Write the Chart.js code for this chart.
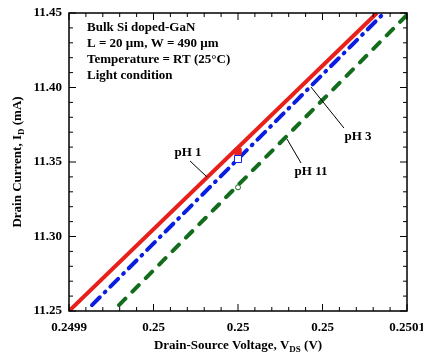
<!DOCTYPE html>
<html lang="en">
<head>
    <meta charset="UTF-8">
    <title>Drain current vs VDS</title>
    <script src="https://cdn.jsdelivr.net/npm/chart.js@4.4.0/dist/chart.umd.min.js"></script>
    <style>
        body { margin: 0; background: #fff; }
    </style>
</head>
<body>
    <canvas id="chart" width="423" height="356"></canvas>

    <script>
        // tick values and labels
        const xTicks = [0.2499, 0.24995, 0.25, 0.25005, 0.2501]
        const xTickLabels = ['0.2499', '0.25', '0.25', '0.25', '0.2501']
        const yTicks = [11.25, 11.30, 11.35, 11.40, 11.45]
        const yTickLabels = ['11.25', '11.30', '11.35', '11.40', '11.45']

        // series (VDS in V, ID in mA)
        const ph1V = [0.2499, 0.2500822]
        const ph1I = [11.25, 11.45]
        const ph3V = [0.2499136, 0.2500864]
        const ph3I = [11.254, 11.45]
        const ph11V = [0.2499296, 0.2501]
        const ph11I = [11.254, 11.4487]

        // marked points
        const markV = [0.25, 0.25, 0.25]
        const markI = [11.357, 11.352, 11.333]

        const infoLines = ['Bulk Si doped-GaN', 'L = 20 \u00b5m, W = 490 \u00b5m', 'Temperature = RT (25\u00b0C)', 'Light condition']

        const font = "'Liberation Serif', 'Times New Roman', serif"

        function pts(xs, ys) {
            return xs.map((x, i) => ({ x: x, y: ys[i] }))
        }

        // label text, label pos, pointer start, pointer tip (data coords)
        const callouts = [
            { text: 'pH 1', at: [0.2499704, 11.356], from: [0.2499716, 11.3507], to: [0.2499817, 11.3399] },
            { text: 'pH 3', at: [0.250071, 11.3668], from: [0.2500627, 11.3728], to: [0.2500432, 11.4003] },
            { text: 'pH 11', at: [0.2500432, 11.3433], from: [0.2500373, 11.3493], to: [0.250029, 11.3654] }
        ]

        const decor = {
            id: 'decor',
            afterDraw(chart) {
                const ctx = chart.ctx
                const a = chart.chartArea
                const xs = chart.scales.x
                const ys = chart.scales.y
                ctx.save()

                // frame
                ctx.strokeStyle = '#000'
                ctx.lineWidth = 1.5
                ctx.strokeRect(a.left, a.top, a.right - a.left, a.bottom - a.top)

                // inward ticks, 4 minor per interval
                ctx.lineWidth = 1
                ctx.beginPath()
                for (let i = 0; i <= 20; i++) {
                    const px = xs.getPixelForValue(0.2499 + i * 0.00001)
                    const len = i % 5 === 0 ? 7 : 4
                    ctx.moveTo(px, a.bottom); ctx.lineTo(px, a.bottom - len)
                    ctx.moveTo(px, a.top); ctx.lineTo(px, a.top + len)
                }
                for (let i = 0; i <= 20; i++) {
                    const py = ys.getPixelForValue(11.25 + i * 0.01)
                    const len = i % 5 === 0 ? 7 : 4
                    ctx.moveTo(a.left, py); ctx.lineTo(a.left + len, py)
                    ctx.moveTo(a.right, py); ctx.lineTo(a.right - len, py)
                }
                ctx.stroke()

                // info text
                ctx.fillStyle = '#000'
                ctx.font = 'bold 13px ' + font
                ctx.textBaseline = 'middle'
                ctx.textAlign = 'left'
                infoLines.forEach((t, i) => ctx.fillText(t, a.left + 18, a.top + 15 + i * 16))

                // callouts
                callouts.forEach(c => {
                    ctx.textAlign = 'center'
                    ctx.fillText(c.text, xs.getPixelForValue(c.at[0]), ys.getPixelForValue(c.at[1]))
                    ctx.beginPath()
                    ctx.moveTo(xs.getPixelForValue(c.from[0]), ys.getPixelForValue(c.from[1]))
                    ctx.lineTo(xs.getPixelForValue(c.to[0]), ys.getPixelForValue(c.to[1]))
                    ctx.stroke()
                })

                // axis titles with subscripts
                function subText(parts, x, y) {
                    let w = 0
                    parts.forEach(p => {
                        ctx.font = (p.sub ? 'bold 9px ' : 'bold 13px ') + font
                        w += ctx.measureText(p.t).width
                    })
                    let cx = x - w / 2
                    ctx.textAlign = 'left'
                    parts.forEach(p => {
                        ctx.font = (p.sub ? 'bold 9px ' : 'bold 13px ') + font
                        ctx.fillText(p.t, cx, y + (p.sub ? 4 : 0))
                        cx += ctx.measureText(p.t).width
                    })
                }
                subText([{ t: 'Drain-Source Voltage, V' }, { t: 'DS', sub: true }, { t: ' (V)' }],
                    (a.left + a.right) / 2, 346)
                ctx.translate(18, (a.top + a.bottom) / 2)
                ctx.rotate(-Math.PI / 2)
                subText([{ t: 'Drain Current, I' }, { t: 'D', sub: true }, { t: ' (mA)' }], 0, 0)

                ctx.restore()
            }
        }

        const ctx = document.getElementById('chart').getContext('2d')

        const myChart = new Chart(ctx, {
            type: 'scatter',
            data: {
                datasets: [{
                    label: 'marks',
                    data: pts(markV, markI),
                    showLine: false,
                    order: -1,
                    pointStyle: ['rect', 'rect', 'circle'],
                    pointRadius: [4.5, 5, 2.5],
                    pointBackgroundColor: ['#e8201c', '#ffffff', '#ffffff'],
                    pointBorderColor: ['#e8201c', '#0a1ee0', '#136b1c'],
                    pointBorderWidth: 1
                }, {
                    label: 'pH 1',
                    data: pts(ph1V, ph1I),
                    showLine: true,
                    borderColor: '#e8201c',
                    borderWidth: 4,
                    pointRadius: 0
                }, {
                    label: 'pH 3',
                    data: pts(ph3V, ph3I),
                    showLine: true,
                    borderColor: '#0a1ee0',
                    borderWidth: 4,
                    borderDash: [11, 7, 1, 7],
                    borderCapStyle: 'round',
                    pointRadius: 0
                }, {
                    label: 'pH 11',
                    data: pts(ph11V, ph11I),
                    showLine: true,
                    borderColor: '#136b1c',
                    borderWidth: 4,
                    borderDash: [9, 10],
                    borderCapStyle: 'round',
                    pointRadius: 0
                }]
            },
            options: {
                responsive: false,
                animation: false,
                layout: { padding: { top: 13, right: 16, left: 0, bottom: 0 } },
                plugins: {
                    legend: { display: false },
                    tooltip: { enabled: false }
                },
                scales: {
                    x: {
                        type: 'linear',
                        min: 0.2499,
                        max: 0.2501,
                        grid: { display: false, drawTicks: false },
                        border: { display: false },
                        afterBuildTicks: s => { s.ticks = xTicks.map(v => ({ value: v })) },
                        afterFit: s => { s.height = 45; s.paddingRight = 0; s.paddingLeft = 0 },
                        ticks: {
                            autoSkip: false,
                            maxRotation: 0,
                            padding: 9,
                            color: '#000',
                            font: { family: font, size: 13, weight: 'bold' },
                            callback: (v, i) => xTickLabels[i]
                        }
                    },
                    y: {
                        min: 11.25,
                        max: 11.45,
                        grid: { display: false, drawTicks: false },
                        border: { display: false },
                        afterBuildTicks: s => { s.ticks = yTicks.map(v => ({ value: v })) },
                        afterFit: s => { s.width = 69; s.paddingTop = 0; s.paddingBottom = 0 },
                        ticks: {
                            autoSkip: false,
                            padding: 7,
                            color: '#000',
                            font: { family: font, size: 13, weight: 'bold' },
                            callback: (v, i) => yTickLabels[i]
                        }
                    }
                }
            },
            plugins: [decor]
        })
    </script>
</body>
</html>
